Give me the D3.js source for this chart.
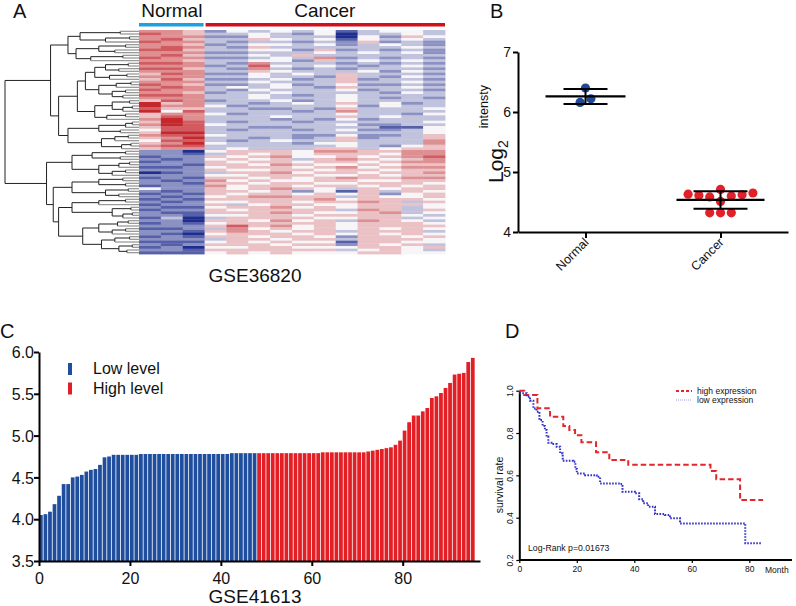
<!DOCTYPE html>
<html><head><meta charset="utf-8">
<script src="https://cdn.jsdelivr.net/npm/d3@7"></script>
<style>body{margin:0;background:#fff} text{font-family:"Liberation Sans",Arial,sans-serif;fill:#111}</style>
</head><body><svg id="c" width="796" height="606"></svg>
<script>
// ---------- DATA ----------
// Panel A: heatmap (levels 1=dark blue, 5=white, 9=dark red)
const heatColumns = ["N1","N2","N3","C1","C2","C3","C4","C5","C6","C7","C8","C9","C10","C11"];
const heatGroups = ["Normal","Normal","Normal","Cancer","Cancer","Cancer","Cancer","Cancer","Cancer","Cancer","Cancer","Cancer","Cancer","Cancer"];
const heatRows = [
"77635454524554","87644543514454","77733544415365","78644654525454","87743443436343",
"77634554534543","78743644444454","88644553634343","77733444545453","78644546444444",
"87733454734343","77644553645454","88743744434343","77734854543454","88643743434443",
"77744654445354","68733545464443","77744544364354","68633453463443","77744544464454",
"87633453453343","78745454364454","87743544453443","77634454444354","88744543454444",
"77744544454343","68734453454444","96744345464534","97753444453544","86644334364445",
"95844443474444","67753444454435","68744454464544","79744434353444","69843443444445",
"79854444453344","68844334444225","58843443453345","69944444444445","78854443353346",
"67944343463446","58843454464447","67954443554447","78844444454356","67745444664566",
"33156665776677","33246565666577","23365675565678","32356564676567","23365665665677",
"33266576556566","22356665675677","33365566566566","12346675665667","33355666556566",
"23266565676677","32375655665566","33266566556665","23375665665656","53365676546566",
"32366563526465","23265665656356","32356776646556","23266666756665","32355665667646",
"23364566556665","32256675656645","23365666647646","32266676556745","33255665666654",
"24146666556645","33166575647654","23256666656665","33368675656666","22347565656565",
"33267656646664","32156665656565","23266566536656","33346656646665","22256565526655",
"32366656636564","23155665556656","33266666645654","22256565556655"
];
// Dendrogram (Newick-like, "*" = leaf, number = merge height, root = 1)
const treeA1 = "((*,*)0.14,((*,*)0.07,*)0.25)0.44";
const treeA2 = "(((*,*)0.1,(*,*)0.18)0.3,((*,*)0.12,*)0.36)0.47";
const treeB1a = "((((*,*)0.08,(*,*)0.15)0.25,((*,*)0.09,*)0.22)0.33,(((*,*)0.06,*)0.17,((*,*)0.1,(*,*)0.12)0.2)0.3)0.4";
const treeB1b = "(((*,*)0.07,((*,*)0.05,*)0.12)0.2,((*,*)0.1,*)0.24)0.33";
const treeB2 = "((((*,*)0.05,*)0.1,(*,*)0.14)0.3,(((*,*)0.08,*)0.18,((*,*)0.06,*)0.13)0.28)0.53";
const treeC1 = "(((*,*)0.1,(*,*)0.14)0.35,(((*,*)0.07,*)0.15,((*,*)0.1,*)0.2)0.3)0.5";
const treeC2a = "(((*,*)0.12,(*,*)0.1)0.3,((*,*)0.08,(*,*)0.15)0.25)0.5";
const treeC2b1 = "(((*,*)0.1,*)0.3,((*,*)0.06,((*,*)0.05,*)0.12)0.2)0.5";
const treeC2b2 = "((((*,*)0.08,*)0.16,((*,*)0.1,*)0.2)0.3,(((*,*)0.07,*)0.18,((*,*)0.05,(*,*)0.09)0.15)0.28)0.42";
const treeString = "(((" + treeA1 + "," + treeA2 + ")0.53,((" + treeB1a + "," + treeB1b + ")0.46," + treeB2 + ")0.6)0.66,(" +
  treeC1 + ",(" + treeC2a + ",(" + treeC2b1 + "," + treeC2b2 + ")0.6)0.64)0.69)1";

// Panel B: dot plot
const bCategories = ["Normal","Cancer"];
const bNormalValues = [6.40, 6.22, 6.16];
const bNormalSlots = [0, 0.5, -0.5];
const bCancerValues = [4.63, 4.61, 4.585, 4.71, 4.60, 4.62, 4.65, 4.32, 4.32, 4.32, 4.51];
const bCancerSlots = [-3, -2, -1, 0, 1, 2, 3, -1, 0, 1, 0];
const bTicks = [4, 5, 6, 7];

// Panel C: sorted expression bars (GSE41613)
const cLowValues = [4.05,4.06,4.09,4.18,4.28,4.42,4.42,4.50,4.51,4.53,4.57,4.59,4.60,4.65,4.74,4.75,4.77,
  4.77,4.77,4.77,4.77,4.77,4.78,4.78,4.78,4.78,4.78,4.78,4.78,4.78,4.78,4.78,4.78,4.78,4.78,4.78,4.78,4.78,4.78,4.78,4.78,4.78,
  4.79,4.79,4.79,4.79,4.79,4.79];
const cHighValues = [4.79,4.79,4.79,4.79,4.79,4.79,4.79,4.79,4.79,4.79,4.79,4.79,4.79,4.79,
  4.80,4.80,4.80,4.80,4.80,4.80,4.80,4.80,4.80,4.80,
  4.81,4.82,4.83,4.84,4.85,4.86,4.89,4.94,
  5.06,5.16,5.24,5.24,5.29,5.33,5.45,5.47,5.51,5.57,5.63,5.73,5.74,5.75,5.88,5.93];
const cLegend = ["Low level","High level"];
const cYTicks = [3.5,4.0,4.5,5.0,5.5,6.0];
const cXTicks = [0,20,40,60,80];

// Panel D: Kaplan-Meier
const dHighTime = [0,1.7,6.3,10.7,15.3,17.4,19.4,21.6,26.7,31.3,37.9,66.5,68.5,76.8,84.8];
const dHighSurv = [1.0,0.98,0.917,0.877,0.833,0.814,0.79,0.756,0.709,0.672,0.65,0.62,0.581,0.483,0.483];
const dLowTime = [0,2.6,3.7,4.9,6.0,7.0,8.1,8.9,9.5,10.1,11.2,13.0,14.2,15.1,18.8,19.5,20.0,22.9,26.9,28.1,35.0,35.9,40.2,41.7,43.1,44.8,47.2,50.6,52.4,55.9,78.6,84.3];
const dLowSurv = [0.988,0.972,0.953,0.916,0.901,0.861,0.833,0.814,0.783,0.754,0.748,0.735,0.704,0.669,0.664,0.63,0.609,0.601,0.593,0.562,0.559,0.523,0.515,0.487,0.468,0.452,0.417,0.413,0.397,0.373,0.279,0.279];
const dXTicks = [0,20,40,60,80];
const dYTicks = [0.2,0.4,0.6,0.8,1.0];
const dLegend = ["high expression","low expression"];

// ---------- DRAW ----------
const svg = d3.select("#c");
const FONT = '"Liberation Sans",Arial,sans-serif';

function panelLabel(t,x,y){ svg.append("text").attr("x",x).attr("y",y).attr("font-size",20).text(t); }
panelLabel("A",13,18); panelLabel("B",490,18); panelLabel("C",0,338); panelLabel("D",505,338);

// ===== Panel A =====
const gA = svg.append("g");
const hmX = d3.scaleBand().domain(d3.range(heatColumns.length)).range([139,445]);
const hmY = d3.scaleBand().domain(d3.range(heatRows.length)).range([30,254]);
const hmColor = d3.scaleLinear().domain([1,5,9]).range(["#1f2e8e","#f7f5f7","#c4282d"]);
const cells = heatRows.flatMap((r,i)=>r.split("").map((c,j)=>({i,j,v:+c})));
gA.append("g").selectAll("rect").data(cells).join("rect")
  .attr("x",d=>hmX(d.j)).attr("y",d=>hmY(d.i))
  .attr("width",hmX.bandwidth()+0.4).attr("height",hmY.bandwidth()+0.4)
  .attr("fill",d=>hmColor(d.v));
// group bars + labels
const groupNames = Array.from(new Set(heatGroups));
const groupColors = {Normal:"#1ea0dc", Cancer:"#d0101c"};
groupNames.forEach(gn=>{
  const idx = heatGroups.map((g,i)=>g===gn?i:-1).filter(i=>i>=0);
  const x0 = hmX(d3.min(idx)), x1 = hmX(d3.max(idx))+hmX.bandwidth();
  gA.append("rect").attr("x",x0+(gn==="Cancer"?1:0)).attr("y",23).attr("width",x1-x0-1).attr("height",3.5).attr("fill",groupColors[gn]);
  gA.append("text").attr("x",(x0+x1)/2).attr("y",17).attr("text-anchor","middle").attr("font-size",19).text(gn);
});
gA.append("text").attr("x",255).attr("y",282).attr("text-anchor","middle").attr("font-size",19).text("GSE36820");

// dendrogram
function parseTree(s){
  let i=0;
  function node(){
    if(s[i]==="("){
      i++; const children=[node()];
      while(s[i]===","){ i++; children.push(node()); }
      i++;
      let num=""; while(i<s.length && /[0-9.]/.test(s[i])) num+=s[i++];
      return {h:+num, children};
    } else { i++; return {h:0}; }
  }
  return node();
}
const root = d3.hierarchy(parseTree(treeString));
const dX = d3.scaleLinear().domain([0,1]).range([139,5]);
root.leaves().forEach((l,k)=>{ l.py = hmY(k)+hmY.bandwidth()/2; });
root.eachAfter(n=>{ if(n.children){ n.py=(n.children[0].py+n.children[n.children.length-1].py)/2; } n.px=dX(n.data.h); });
const gD = gA.append("g").attr("fill","none");
root.descendants().forEach(n=>{
  if(n.parent){
    gD.append("line").attr("x1",n.parent.px).attr("x2",n.px).attr("y1",n.py).attr("y2",n.py)
      .attr("stroke",n.children?"#222":"#9a9a9a").attr("stroke-width",n.children?1:1.3);
  }
  if(n.children){
    gD.append("line").attr("x1",n.px).attr("x2",n.px)
      .attr("y1",n.children[0].py).attr("y2",n.children[n.children.length-1].py)
      .attr("stroke","#222").attr("stroke-width",1);
  }
});

// ===== Panel B =====
const gB = svg.append("g");
const yB = d3.scaleLinear().domain([4,7]).range([232,52]);
const xB = d3.scalePoint().domain(bCategories).range([518,788]).padding(0.5);
const slotW = 10.8;
const yAxisB = gB.append("g").attr("transform","translate(518,0)")
  .call(d3.axisLeft(yB).tickValues(bTicks).tickFormat(d3.format("d")).tickSize(5).tickSizeOuter(0));
const xAxisB = gB.append("g").attr("transform","translate(0,232)")
  .call(d3.axisBottom(xB).tickSize(6).tickSizeOuter(0));
[yAxisB,xAxisB].forEach(a=>{ a.select(".domain").attr("stroke","#000").attr("stroke-width",2);
  a.selectAll(".tick line").attr("stroke","#000").attr("stroke-width",2); });
yAxisB.selectAll("text").attr("font-size",14).attr("font-family",FONT).attr("x",-7);
xAxisB.selectAll("text").remove();
bCategories.forEach(c=>{
  gB.append("text").attr("transform",`translate(${xB(c)+4},${243}) rotate(-45)`)
    .attr("text-anchor","end").attr("font-size",12.5).text(c);
});
// y label
const ylab = gB.append("text").attr("transform","translate(503,183) rotate(-90)");
ylab.append("tspan").attr("font-size",21).text("Log");
ylab.append("tspan").attr("font-size",14).attr("dy",5).text("2");
ylab.append("tspan").attr("font-size",12.5).attr("dy",-20).attr("dx",12).text("intensty");

const groupsB = [
  {cat:"Normal", vals:bNormalValues, slots:bNormalSlots, color:"#1f4a98", half:40, cap:22},
  {cat:"Cancer", vals:bCancerValues, slots:bCancerSlots, color:"#e3202a", half:44, cap:27}
];
groupsB.forEach(g=>{
  const cx = xB(g.cat);
  gB.append("g").selectAll("circle").data(g.vals.map((v,i)=>({v,s:g.slots[i]}))).join("circle")
    .attr("cx",d=>cx+d.s*slotW).attr("cy",d=>yB(d.v)).attr("r",4.6).attr("fill",g.color);
  const m = d3.mean(g.vals), sd = d3.deviation(g.vals);
  const st = {stroke:"#000"};
  gB.append("line").attr("x1",cx-g.half).attr("x2",cx+g.half).attr("y1",yB(m)).attr("y2",yB(m)).attr("stroke","#000").attr("stroke-width",2.2);
  [m+sd,m-sd].forEach(v=>gB.append("line").attr("x1",cx-g.cap).attr("x2",cx+g.cap).attr("y1",yB(v)).attr("y2",yB(v)).attr("stroke","#000").attr("stroke-width",2));
  gB.append("line").attr("x1",cx).attr("x2",cx).attr("y1",yB(m+sd)).attr("y2",yB(m-sd)).attr("stroke","#000").attr("stroke-width",2);
});

// ===== Panel C =====
const gC = svg.append("g");
const cValues = cLowValues.concat(cHighValues);
const cGroup = cLowValues.map(()=>0).concat(cHighValues.map(()=>1));
const yC = d3.scaleLinear().domain([3.5,6.0]).range([561,352]);
const xC = d3.scaleLinear().domain([0,97]).range([39,480]);
const cColors = ["#1f4e9e","#e31e24"];
gC.append("g").selectAll("rect").data(cValues.map((v,i)=>({v,i,g:cGroup[i]}))).join("rect")
  .attr("x",d=>xC(d.i)).attr("width",d=>xC(d.i+1)-xC(d.i)-0.8)
  .attr("y",d=>yC(d.v)).attr("height",d=>yC(3.5)-yC(d.v)).attr("fill",d=>cColors[d.g]);
const yAxisC = gC.append("g").attr("transform","translate(39,0)")
  .call(d3.axisLeft(yC).tickValues(cYTicks).tickFormat(d3.format(".1f")).tickSize(5).tickSizeOuter(0));
const xAxisC = gC.append("g").attr("transform","translate(0,561)")
  .call(d3.axisBottom(xC).tickValues(cXTicks).tickFormat(d3.format("d")).tickSize(5).tickSizeOuter(0));
[yAxisC,xAxisC].forEach(a=>{ a.select(".domain").attr("stroke","#000").attr("stroke-width",2);
  a.selectAll(".tick line").attr("stroke","#000").attr("stroke-width",2);
  a.selectAll("text").attr("font-size",16).attr("font-family",FONT).attr("fill","#111"); });
yAxisC.selectAll("text").attr("x",-5).attr("dy","0.36em");
xAxisC.selectAll("text").attr("y",9).attr("dy","0.9em");
gC.append("text").attr("x",255).attr("y",603).attr("text-anchor","middle").attr("font-size",19).text("GSE41613");
cLegend.forEach((t,i)=>{
  gC.append("rect").attr("x",68).attr("y",363+i*19.5).attr("width",4).attr("height",12).attr("fill",cColors[i]);
  gC.append("text").attr("x",93).attr("y",374+i*19.5).attr("font-size",16).text(t);
});

// ===== Panel D =====
const gDd = svg.append("g");
const xD = d3.scaleLinear().domain([0,80]).range([519.3,749.3]);
const yD = d3.scaleLinear().domain([0.2,1.0]).range([560,390.7]);
const yAxisD = gDd.append("g").attr("transform","translate(519.3,0)")
  .call(d3.axisLeft(yD).tickValues(dYTicks).tickFormat(d3.format(".1f")).tickSize(3).tickSizeOuter(0));
const xAxisD = gDd.append("g").attr("transform","translate(0,560)")
  .call(d3.axisBottom(xD).tickValues(dXTicks).tickFormat(d3.format("d")).tickSize(3).tickSizeOuter(0));
xAxisD.select(".domain").attr("d","M519.3,0H792");
[yAxisD,xAxisD].forEach(a=>{ a.select(".domain").attr("stroke","#000").attr("stroke-width",2);
  a.selectAll(".tick line").attr("stroke","#000").attr("stroke-width",1.2);
  a.selectAll("text").attr("font-size",8.5).attr("font-family",FONT).attr("fill","#222"); });
yAxisD.selectAll("text").attr("transform","rotate(-90)").attr("text-anchor","middle").attr("x",0).attr("y",-6).attr("dy","0");
xAxisD.selectAll("text").attr("y",6).attr("dy","0.75em");
gDd.append("text").attr("x",765).attr("y",573).attr("font-size",8.5).attr("fill","#222").text("Month");
gDd.append("text").attr("transform","translate(503,485) rotate(-90)").attr("text-anchor","middle").attr("font-size",10.5).attr("fill","#222").text("survival rate");
gDd.append("text").attr("x",528).attr("y",551).attr("font-size",8.7).attr("fill","#222").text("Log-Rank p=0.01673");
const km = d3.line().x(d=>xD(d[0])).y(d=>yD(d[1])).curve(d3.curveStepAfter);
const series = [
  {t:dHighTime, s:dHighSurv, color:"#e3262b", dash:"5.5,3", w:2},
  {t:dLowTime, s:dLowSurv, color:"#3232c8", dash:"1.6,1.4", w:2}
];
series.forEach(se=>{
  gDd.append("path").attr("d",km(se.t.map((t,i)=>[t,se.s[i]]))).attr("fill","none")
    .attr("stroke",se.color).attr("stroke-width",se.w).attr("stroke-dasharray",se.dash);
});
dLegend.forEach((t,i)=>{
  gDd.append("line").attr("x1",676).attr("x2",692).attr("y1",391+i*9).attr("y2",391+i*9)
    .attr("stroke",series[i].color).attr("stroke-width",i?0.8:1.8).attr("stroke-dasharray",i?"1,1":"3,2").attr("opacity",i?0.6:1);
  gDd.append("text").attr("x",697).attr("y",394+i*9.3).attr("font-size",8.5).attr("fill","#222").text(t);
});
</script></body></html>
